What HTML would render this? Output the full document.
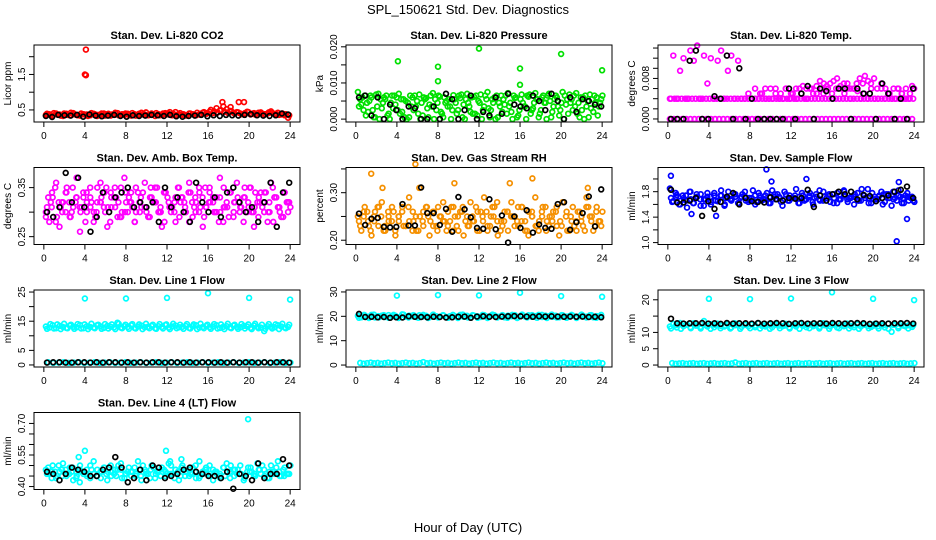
<!DOCTYPE html>
<html><head><meta charset="utf-8"><style>
html,body{margin:0;padding:0;background:#fff;}
svg{display:block;font-family:"Liberation Sans",Arial,sans-serif;}
</style></head><body>
<svg id="c" width="936" height="540" viewBox="0 0 936 540">
<text x="468" y="14" text-anchor="middle" font-size="13">SPL_150621  Std. Dev. Diagnostics</text>
<text x="468" y="532" text-anchor="middle" font-size="13">Hour of Day (UTC)</text>
</svg>
<script>
// ---- data (values per panel) ----
const hourTicks = [0,4,8,12,16,20,24];
const co2Red = [0.36,0.38,0.34,0.40,0.37,0.33,0.39,0.35,0.41,0.36,0.34,0.38,0.37,0.35,0.39,0.33,0.36,0.40,0.38,0.34,0.37,0.41,0.35,0.36,0.39,0.34,0.38,0.36,0.42,0.37,0.35,0.40,0.33,0.38,0.36,0.41,0.39,0.35,0.44,0.37,0.36,0.34,0.40,0.38,0.35,0.37,0.42,0.39,0.45,0.41,0.55,0.48,0.60,0.52,0.47,0.42,0.44,0.40,0.38,0.45,0.37,0.41,0.36,0.43,0.38,0.40,0.46,0.39,0.42,0.37,0.35,0.28];
const co2Red2 = [0.39,0.35,0.41,0.37,0.34,0.40,0.36,0.42,0.38,0.35,0.40,0.37,0.33,0.41,0.38,0.36,0.40,0.34,0.39,0.37,0.42,0.35,0.38,0.40,0.36,0.41,0.34,0.39,0.37,0.43,0.36,0.38,0.41,0.35,0.40,0.37,0.44,0.39,0.36,0.41,0.38,0.35,0.40,0.37,0.42,0.39,0.44,0.41,0.50,0.46,0.43,0.49,0.45,0.42,0.47,0.40,0.43,0.38,0.41,0.44,0.39,0.37,0.42,0.40,0.38,0.43,0.41,0.39,0.36,0.40,0.38,0.35];
const co2RedOut = [2.2,1.5,1.48,0.72,0.72,0.72,0.58];
const co2RedOutHr = [4.1,4.0,4.1,17.4,19.0,19.5,18.2];
const co2Black = [0.33,0.30,0.36,0.35,0.34,0.36,0.31,0.37,0.34,0.32,0.34,0.36,0.33,0.31,0.35,0.33,0.34,0.36,0.35,0.33,0.36,0.32,0.31,0.33,0.34,0.36,0.32,0.35,0.33,0.36,0.35,0.34,0.36,0.38,0.35,0.34,0.33,0.35,0.40,0.37];
const presGreen = [0.0075,0.004,0.0065,0.002,0.006,0.0005,0.007,0.003,0.0055,0.0015,0.0065,0.004,0.0070,0.002,0.005,0.0005,0.006,0.0035,0.0068,0.001,0.0058,0.004,0.0072,0.0025,0.0062,0.0005,0.005,0.0035,0.0066,0.0015,0.0058,0.004,0.007,0.002,0.0062,0.001,0.0068,0.0035,0.0075,0.0025,0.006,0.0005,0.0065,0.004,0.0072,0.002,0.0058,0.001,0.0068,0.0035,0.0062,0.0025,0.0072,0.0005,0.006,0.0045,0.007,0.002,0.0065,0.001,0.0075,0.004,0.0068,0.0025,0.0072,0.0005,0.006,0.0035,0.0068,0.002,0.006,0.0045];
const presGreen2 = [0.0035,0.006,0.001,0.005,0.0025,0.0068,0,0.0045,0.0065,0,0.003,0.006,0.0015,0.0055,0,0.0065,0.0025,0.005,0,0.006,0.003,0.0065,0,0.0045,0.002,0.006,0.0035,0,0.0055,0.0025,0.0068,0,0.0045,0.006,0.0015,0.005,0,0.0065,0.003,0.0055,0,0.0045,0.002,0.0065,0.0035,0,0.006,0.0025,0.0045,0,0.0068,0.003,0.0055,0.0015,0.0065,0,0.005,0.0035,0.006,0.0025,0,0.0055,0.0045,0.0065,0.0015,0.006,0,0.005,0.003,0.0065,0.001,0.0055];
const presGreen3 = [0.0055,0.0025,0.0045,0.0065,0.0005,0.0035,0.0055,0.006,0.001,0.0045,0.0065,0.0025,0.0055,0.0005,0.0045,0.0035,0.0065,0.0015,0.0045,0.0055,0.0005,0.0035,0.0055,0.0065,0.0015,0.0045,0.0055,0.0025,0.0045,0.0065,0.0005,0.0055,0.0035,0.0015,0.0065,0.0045,0.0025,0.0055,0.0005,0.0045,0.0065,0.0035,0.0055,0.0015,0.0045,0.0065,0.0005,0.0055,0.0035,0.0065,0.0015,0.0045,0.0055,0.0025,0.0045,0.0065,0.0005,0.0055,0.0035,0.0045,0.0065,0.0015,0.0055,0.0035,0.0045,0.0025,0.0065,0.0005,0.0055,0.0045,0.0035,0.0065];
const presGreenOut = [0.016,0.0145,0.0105,0.0195,0.014,0.0095,0.018,0.0135];
const presGreenOutHr = [4.1,8.0,8.0,12.0,16.0,16.0,20.0,24.0];
const presBlack = [0.006,0.0065,0.001,0.006,0,0.004,0.0025,0,0.0035,0.003,0,0,0.0035,0,0.007,0.0055,0,0.0025,0.0065,0,0.002,0.001,0.006,0.0015,0.007,0.004,0.0035,0.003,0.0065,0.005,0.0025,0.007,0.005,0,0.006,0.002,0.0055,0.005,0.004,0.0035];
const tempMag = [0.004,0.0125,0.004,0.0095,0.012,0.004,0.0135,0.0115,0.0145,0.004,0.0125,0.007,0.012,0.004,0.0115,0.0135,0.004,0.0095,0.0125,0.004,0.0115,0.004,0.004,0.005,0.004,0.004,0.004,0.005,0.004,0.004,0.004,0.005,0.004,0.004,0.006,0.004,0.005,0.004,0.006,0.0065,0.004,0.006,0.005,0.0065,0.0075,0.005,0.0065,0.007,0.0075,0.008,0.0065,0.007,0.006,0.004,0.006,0.0055,0.004,0.005,0.004,0.006,0.004,0.004,0.006,0.004,0.005,0.004,0.004,0.006,0.005,0.004,0.004,0.0065];
const tempMagBand = [0.004,0.004,0.004,0.004,0.004,0.004,0.004,0.004,0.004,0.004,0.004,0.004,0.004,0.004,0.004,0.004,0.004,0.004,0.004,0.004,0.004,0.004,0.004,0.004,0.004,0.004,0.004,0.004,0.004,0.004,0.004,0.004,0.004,0.004,0.004,0.004,0.004,0.004,0.004,0.004,0.004,0.004,0.004,0.004,0.004,0.004,0.004,0.004,0.004,0.004,0.004,0.004,0.004,0.004,0.004,0.004,0.004,0.004,0.004,0.004,0.004,0.004,0.004,0.004,0.004,0.004,0.004,0.004,0.004,0.004];
const tempMagMid = [0.006,0.005,0.006,0.005,0.006,0.005,0.006,0.006,0.005,0.006,0.007,0.006,0.005,0.006,0.006,0.005,0.007,0.006,0.006,0.007,0.008,0.007,0.0085,0.0075,0.007,0.008,0.006,0.007,0.006,0.005,0.006,0.006,0.005,0.006,0.005,0.006,0.006,0.005,0.006,0.006];
const tempMagMidHr = [10.5,11.0,11.5,12.0,12.5,13.0,13.5,14.0,14.5,15.0,15.2,15.6,16.0,16.4,16.8,17.2,17.5,17.8,18.1,18.4,18.7,19.0,19.2,19.5,19.8,20.1,20.4,20.8,21.2,21.6,22.0,22.4,22.8,23.2,23.6,24.0,9.5,9.0,10.0,8.5];
const tempMagZero = [0,0,0,0,0,0,0,0,0,0,0,0,0,0,0,0,0,0,0,0,0,0,0,0,0,0,0,0,0,0,0,0,0,0,0,0,0,0,0,0,0,0,0,0,0,0,0,0,0,0,0,0,0,0,0,0,0,0,0,0];
const tempBlack = [0,0,0,0.0115,0.0135,0,0,0.0045,0.004,0.0125,0,0.0100,0,0.004,0,0,0,0,0,0.006,0,0.005,0.0065,0,0.006,0.0055,0.004,0.006,0.006,0,0.006,0.005,0.005,0,0.007,0.005,0,0.004,0,0.006];
const ambMag = [0.30,0.28,0.33,0.36,0.27,0.32,0.34,0.29,0.31,0.37,0.26,0.33,0.30,0.35,0.28,0.32,0.36,0.31,0.27,0.34,0.33,0.29,0.35,0.37,0.30,0.32,0.28,0.34,0.31,0.36,0.29,0.33,0.35,0.30,0.27,0.34,0.32,0.31,0.28,0.35,0.33,0.30,0.36,0.29,0.32,0.34,0.27,0.31,0.35,0.33,0.30,0.37,0.28,0.32,0.34,0.29,0.36,0.31,0.33,0.30,0.35,0.27,0.32,0.34,0.30,0.28,0.36,0.33,0.31,0.29,0.34,0.32];
const ambMag2 = [0.31,0.34,0.29,0.32,0.35,0.30,0.33,0.31,0.34,0.32,0.30,0.33,0.35,0.31,0.33,0.29,0.32,0.34,0.30,0.33,0.31,0.35,0.32,0.30,0.34,0.31,0.33,0.32,0.30,0.34,0.33,0.31,0.35,0.32,0.30,0.33,0.31,0.34,0.32,0.30,0.33,0.35,0.31,0.32,0.34,0.30,0.33,0.31,0.34,0.32];
const ambMag3 = [0.33,0.31,0.35,0.32,0.30,0.34,0.32,0.35,0.33,0.31,0.34,0.32,0.33,0.30,0.35,0.32,0.34,0.31,0.33,0.35,0.32,0.30,0.34,0.33,0.31,0.35,0.32,0.34,0.30,0.33,0.32,0.35,0.31,0.34,0.33,0.30,0.32,0.35,0.33,0.31,0.34,0.32,0.30,0.35,0.33,0.31,0.34,0.32,0.33,0.30,0.35,0.31,0.34,0.32,0.33,0.31,0.35,0.32,0.30,0.34,0.33,0.31,0.34,0.32,0.35,0.33,0.30,0.34,0.32,0.31];
const ambMag4 = [0.29,0.32,0.28,0.31,0.30,0.29,0.32,0.30,0.28,0.31,0.29,0.32,0.30,0.28,0.31,0.29,0.30,0.32,0.28,0.30,0.31,0.29,0.32,0.30,0.28,0.31,0.30,0.29,0.32,0.28,0.31,0.30,0.29,0.32,0.30,0.28,0.31,0.29,0.30,0.32,0.28,0.31,0.30,0.29,0.32,0.30,0.28,0.31,0.29,0.30];
const ambBlack = [0.30,0.29,0.31,0.38,0.32,0.37,0.31,0.26,0.29,0.34,0.30,0.33,0.34,0.35,0.31,0.32,0.31,0.32,0.28,0.35,0.31,0.33,0.30,0.28,0.36,0.32,0.30,0.33,0.29,0.34,0.35,0.32,0.30,0.31,0.28,0.32,0.36,0.27,0.34,0.36];
const rhOr = [0.25,0.22,0.27,0.24,0.21,0.26,0.23,0.28,0.22,0.25,0.27,0.21,0.24,0.26,0.23,0.29,0.22,0.25,0.31,0.24,0.27,0.21,0.26,0.23,0.25,0.28,0.22,0.24,0.27,0.23,0.26,0.21,0.25,0.28,0.24,0.22,0.26,0.29,0.23,0.25,0.27,0.21,0.24,0.26,0.22,0.28,0.25,0.23,0.27,0.24,0.21,0.26,0.29,0.22,0.25,0.27,0.23,0.24,0.26,0.21,0.28,0.25,0.22,0.27,0.24,0.26,0.23,0.29,0.25,0.22,0.27,0.24];
const rhOr2 = [0.24,0.26,0.23,0.25,0.27,0.22,0.24,0.26,0.25,0.23,0.27,0.24,0.22,0.26,0.25,0.23,0.27,0.24,0.26,0.22,0.25,0.27,0.23,0.24,0.26,0.25,0.22,0.27,0.24,0.23,0.26,0.25,0.24,0.27,0.22,0.25,0.23,0.26,0.24,0.25,0.27,0.23,0.26,0.24,0.22,0.25,0.27,0.24,0.26,0.23];
const rhOr3 = [0.23,0.25,0.26,0.22,0.24,0.27,0.25,0.23,0.26,0.24,0.22,0.25,0.27,0.23,0.24,0.26,0.22,0.25,0.23,0.27,0.24,0.26,0.22,0.25,0.24,0.23,0.27,0.25,0.22,0.26,0.24,0.23,0.25,0.27,0.22,0.24,0.26,0.23,0.25,0.28,0.22,0.24,0.26,0.25,0.23,0.27,0.24,0.22,0.26,0.25,0.23,0.24,0.27,0.22,0.25,0.26,0.23,0.24,0.28,0.22,0.25,0.23,0.26,0.24,0.22,0.27,0.25,0.23,0.24,0.26];
const rhOrOut = [0.34,0.36,0.31,0.32,0.32,0.33,0.31];
const rhOrOutHr = [1.5,5.8,2.6,9.6,15.0,17.2,22.6];
const rhBlack = [0.256,0.232,0.245,0.247,0.228,0.227,0.228,0.276,0.231,0.231,0.311,0.257,0.257,0.232,0.266,0.218,0.291,0.265,0.248,0.226,0.224,0.286,0.223,0.252,0.195,0.250,0.226,0.263,0.216,0.233,0.226,0.224,0.276,0.280,0.222,0.238,0.257,0.292,0.229,0.307];
const sfBlue = [1.85,1.65,1.75,1.60,1.70,1.55,1.80,1.62,1.72,1.58,1.68,1.78,1.60,1.74,1.65,1.82,1.58,1.70,1.66,1.76,1.62,1.72,1.80,1.64,1.70,1.60,1.78,1.66,1.74,1.62,1.82,1.68,1.72,1.58,1.76,1.66,1.70,1.84,1.62,1.74,1.68,1.78,1.60,1.72,1.66,1.80,1.70,1.64,1.76,1.62,1.74,1.82,1.68,1.70,1.60,1.78,1.66,1.74,1.84,1.62,1.72,1.68,1.80,1.64,1.76,1.58,1.70,1.82,1.62,1.74,1.66,1.72];
const sfBlue2 = [1.70,1.72,1.66,1.74,1.68,1.70,1.76,1.68,1.72,1.66,1.74,1.70,1.68,1.76,1.70,1.72,1.66,1.74,1.70,1.68,1.72,1.76,1.70,1.68,1.74,1.70,1.72,1.66,1.74,1.70,1.68,1.72,1.76,1.70,1.68,1.74,1.70,1.72,1.66,1.74,1.70,1.68,1.72,1.76,1.70,1.68,1.74,1.70,1.72,1.66];
const sfBlue3 = [1.64,1.78,1.60,1.74,1.66,1.80,1.62,1.76,1.68,1.58,1.72,1.64,1.78,1.66,1.74,1.60,1.80,1.68,1.72,1.62,1.76,1.66,1.70,1.82,1.64,1.74,1.68,1.78,1.62,1.72,1.76,1.64,1.80,1.66,1.70,1.74,1.62,1.78,1.68,1.72,1.64,1.76,1.82,1.66,1.70,1.74,1.62,1.78,1.68,1.80,1.64,1.72,1.76,1.66,1.84,1.70,1.62,1.78,1.68,1.74,1.60,1.76,1.70,1.80,1.66,1.72,1.62,1.78,1.70,1.64];
const sfBlueOut = [2.05,1.45,1.42,2.15,1.96,2.0,1.02,1.37,1.95];
const sfBlueOutHr = [0.3,2.3,4.7,9.6,10.1,13.5,22.3,23.3,22.5];
const sfBlack = [1.83,1.63,1.63,1.66,1.70,1.42,1.65,1.53,1.64,1.72,1.78,1.60,1.70,1.65,1.64,1.63,1.71,1.68,1.66,1.70,1.69,1.70,1.83,1.56,1.74,1.66,1.76,1.80,1.76,1.80,1.68,1.75,1.73,1.65,1.70,1.74,1.80,1.83,1.88,1.70];
const l1Cyan = [13.2,12.8,13.6,12.6,13.4,13.0,12.7,13.5,13.1,12.9,13.7,12.6,13.3,13.0,12.8,13.6,13.2,12.7,13.4,13.1,12.9,14.5,12.8,13.3,13.0,13.6,12.7,13.2,13.5,12.9,13.1,13.4,12.6,13.3,13.0,13.7,12.8,13.2,13.5,12.9,13.1,13.4,12.7,13.3,13.6,12.8,13.0,13.4,12.9,13.2,13.6,12.7,13.1,13.3,12.8,13.5,13.0,12.9,13.4,13.2,12.7,13.5,13.0,12.8,11.6,13.3,13.1,12.9,13.6,13.2,12.8,13.0];
const l1Cyan2 = [12.4,14.0,12.5,13.9,12.3,14.1,12.6,13.8,12.4,14.0,12.5,13.9,12.3,14.1,12.6,13.8,12.4,14.0,12.5,13.9,12.3,14.1,12.6,13.8,12.4,14.0,12.5,13.9,12.3,14.1,12.6,13.8,12.4,14.0,12.5,13.9,12.3,14.1,12.6,13.8,12.4,14.0,12.5,13.9,12.3,14.1,12.6,13.8,12.4,14.0,12.5,13.9,12.3,14.1,12.6,13.8,12.4,14.0,12.5,13.9,12.3,14.1,12.6,13.8,12.4,14.0,12.5,13.9,12.3,14.1,12.6,13.8];
const l1Low = [0.9,0.7,0.8,0.9,0.7,0.8,0.9,0.7,0.8,0.9,0.7,0.8,0.9,0.7,0.8,0.9,0.7,0.8,0.9,0.7,0.8,0.9,0.7,0.8,0.9,0.7,0.8,0.9,0.7,0.8,0.9,0.7,0.8,0.9,0.7,0.8,0.9,0.7,0.8,0.9,0.7,0.8,0.9,0.7,0.8,0.9,0.7,0.8];
const l1Out = [22.8,22.8,23.0,24.6,23.0,22.4];
const spikeHr = [4.0,8.0,12.0,16.0,20.0,24.0];
const l1Black = [0.8,0.9,0.9,0.8,0.8,0.9,0.9,0.8,0.9,0.8,0.9,0.9,0.8,0.9,0.8,0.9,0.8,0.9,0.9,0.8,0.9,0.9,0.8,0.9,0.8,0.9,0.9,0.8,0.9,0.8,0.9,0.8,0.9,0.9,0.8,0.9,0.8,0.9,0.9,0.8];
const l2Cyan = [20.2,19.6,20.4,19.8,20.6,19.5,20.1,20.3,19.7,20.5,19.9,20.2,19.6,20.8,19.8,20.3,20.0,19.7,20.4,19.9,20.2,19.6,20.5,20.0,19.8,20.3,19.7,20.1,20.4,19.9,20.6,19.8,20.2,19.6,20.3,20.0,19.7,20.5,19.9,20.2,20.4,19.8,20.1,19.6,20.3,20.0,20.5,19.7,20.2,19.9,20.4,19.8,20.1,20.6,19.7,20.3,20.0,19.8,20.2,19.6,20.4,19.9,20.1,20.3,19.7,20.0,20.2,19.8,20.4,19.6,20.1,19.9];
const l2Cyan2 = [19.4,20.6,19.3,20.7,19.5,20.5,19.4,20.6,19.3,20.7,19.5,20.5,19.4,20.6,19.3,20.7,19.5,20.5,19.4,20.6,19.3,20.7,19.5,20.5,19.4,20.6,19.3,20.7,19.5,20.5,19.4,20.6,19.3,20.7,19.5,20.5,19.4,20.6,19.3,20.7,19.5,20.5,19.4,20.6,19.3,20.7,19.5,20.5,19.4,20.6];
const l2Low = [0.9,0.6,0.8,1.0,0.7,0.9,0.6,0.8,1.0,0.7,0.9,0.6,0.8,1.0,0.7,0.9,0.6,0.8,1.2,0.7,0.9,0.6,0.8,1.0,0.7,0.9,0.6,0.8,1.0,0.7,0.9,0.6,0.8,1.0,0.7,0.9,0.6,0.8,1.0,0.7,0.9,0.6,0.8,1.0,0.7,0.9,0.6,0.8,1.0,0.7,0.9,0.6,0.8,1.0,0.7,0.9,0.6,0.8,1.0,0.7,0.9,0.6,0.8,1.0,0.7,0.9,0.6,0.8,1.0,0.7];
const l2Out = [28.5,28.7,28.6,29.7,28.3,28.0];
const l2Black = [21.0,19.7,19.8,19.6,19.7,19.4,19.6,19.5,20.0,19.8,19.7,19.6,19.8,19.7,19.5,19.6,19.8,19.9,19.4,19.9,20.0,19.8,19.7,19.9,20.0,20.1,20.0,19.9,19.8,20.0,19.9,20.0,19.9,19.8,19.9,19.8,19.9,19.7,19.8,19.6];
const l3Cyan = [11.8,12.6,11.5,12.9,11.9,12.4,11.6,12.8,12.1,11.7,13.5,11.8,12.5,11.6,12.7,12.0,11.8,12.5,11.5,12.8,12.2,11.7,12.6,11.9,12.4,11.6,12.8,12.0,11.8,12.5,11.6,12.7,12.1,11.9,12.6,11.5,12.3,11.8,12.7,12.0,11.6,12.5,11.9,12.4,11.7,12.8,12.1,11.8,12.6,11.5,12.3,11.9,12.7,12.0,11.6,12.5,11.8,12.4,12.0,11.7,12.6,11.9,12.3,11.5,12.7,10.2,12.4,11.8,12.6,11.9,12.2,11.7];
const l3Cyan2 = [11.2,12.2,11.1,12.3,11.3,12.1,11.2,12.2,11.1,12.3,11.3,12.1,11.2,12.2,11.1,12.3,11.3,12.1,11.2,12.2,11.1,12.3,11.3,12.1,11.2,12.2,11.1,12.3,11.3,12.1,11.2,12.2,11.1,12.3,11.3,12.1,11.2,12.2,11.1,12.3,11.3,12.1,11.2,12.2,11.1,12.3,11.3,12.1,11.2,12.2];
const l3Low = [0.6,0.4,0.5,0.6,0.4,0.5,0.6,0.4,0.5,0.6,0.4,0.5,0.6,0.4,0.5,0.6,0.4,0.5,0.8,0.4,0.5,0.6,0.4,0.5,0.6,0.4,0.5,0.6,0.4,0.5,0.6,0.4,0.5,0.6,0.4,0.5,0.6,0.4,0.5,0.6,0.4,0.5,0.6,0.4,0.5,0.6,0.4,0.5,0.6,0.4,0.5,0.6,0.4,0.5,0.6,0.4,0.5,0.6,0.4,0.5,0.6,0.4,0.5,0.6,0.4,0.5,0.6,0.4,0.5,0.6];
const l3Out = [20.3,20.2,20.4,22.3,20.3,19.9];
const l3Black = [14.2,12.8,12.7,12.8,12.8,12.9,12.7,12.8,12.6,12.9,12.7,12.8,12.8,12.7,12.9,12.7,12.8,12.9,12.8,12.6,12.8,12.9,12.7,12.8,12.8,12.7,12.9,12.8,12.7,12.8,12.9,12.8,12.6,12.7,12.8,12.7,12.8,12.8,12.9,12.7];
const l4Cyan = [0.48,0.46,0.50,0.44,0.47,0.51,0.45,0.49,0.43,0.47,0.50,0.46,0.48,0.44,0.52,0.45,0.47,0.49,0.43,0.50,0.46,0.48,0.51,0.44,0.47,0.45,0.49,0.52,0.43,0.48,0.46,0.50,0.44,0.47,0.49,0.45,0.51,0.46,0.48,0.43,0.50,0.47,0.45,0.49,0.44,0.52,0.46,0.48,0.50,0.43,0.47,0.45,0.49,0.51,0.44,0.48,0.46,0.50,0.43,0.47,0.49,0.45,0.51,0.46,0.48,0.44,0.50,0.47,0.52,0.45,0.49,0.46];
const l4Cyan2 = [0.46,0.47,0.45,0.48,0.46,0.47,0.45,0.47,0.46,0.48,0.45,0.47,0.46,0.47,0.45,0.48,0.46,0.47,0.46,0.45,0.47,0.48,0.46,0.45,0.47,0.46,0.48,0.45,0.47,0.46,0.47,0.45,0.48,0.46,0.47,0.46,0.45,0.47,0.48,0.46,0.45,0.47,0.46,0.48,0.45,0.47,0.46,0.47,0.45,0.46];
const l4Cyan3 = [0.49,0.44,0.47,0.50,0.45,0.48,0.46,0.49,0.44,0.48,0.47,0.45,0.50,0.46,0.48,0.44,0.49,0.47,0.45,0.48,0.50,0.44,0.46,0.49,0.47,0.45,0.48,0.50,0.46,0.44,0.49,0.47,0.45,0.48,0.46,0.50,0.44,0.47,0.49,0.45,0.48,0.46,0.50,0.44,0.47,0.49,0.45,0.48,0.46,0.44,0.49,0.47,0.50,0.45,0.48,0.46,0.44,0.49,0.47,0.45,0.48,0.50,0.46,0.44,0.47,0.49,0.45,0.48,0.46,0.50];
const l4Out = [0.57,0.54,0.57,0.42,0.72,0.52,0.53];
const l4OutHr = [4.0,3.4,11.9,3.5,19.9,12.3,13.4];
const l4Black = [0.47,0.46,0.43,0.46,0.49,0.48,0.47,0.45,0.45,0.48,0.49,0.54,0.49,0.42,0.44,0.48,0.43,0.50,0.49,0.44,0.45,0.46,0.48,0.49,0.47,0.46,0.45,0.45,0.44,0.47,0.39,0.46,0.45,0.43,0.51,0.44,0.46,0.46,0.53,0.50];

const C = {red:"#ff0000",blk:"#000000",grn:"#00e000",mag:"#ff00ff",org:"#f59000",blu:"#0000ff",cyn:"#00ffff"};
const panels = [
 {name:"co2",title:"Stan. Dev. Li-820 CO2",yl:"Licor ppm",col:0,row:0,ylim:[0.16,2.33],ticks:[0.5,1.0,1.5,2.0],labs:["0.5","","1.5",""],
  series:[[co2Red,null,C.red],[co2Red2,null,C.red],[co2RedOut,co2RedOutHr,C.red],[co2Black,null,C.blk]]},
 {name:"pressure",title:"Stan. Dev. Li-820 Pressure",yl:"kPa",col:1,row:0,ylim:[-0.0008,0.0205],ticks:[0,0.005,0.01,0.015,0.02],labs:["0.000","","0.010","","0.020"],
  series:[[presGreen,null,C.grn],[presGreen2,null,C.grn],[presGreen3,null,C.grn],[presGreenOut,presGreenOutHr,C.grn],[presBlack,null,C.blk]]},
 {name:"temp",title:"Stan. Dev. Li-820 Temp.",yl:"degrees C",col:2,row:0,ylim:[-0.0006,0.0146],ticks:[0,0.002,0.004,0.006,0.008,0.010,0.012,0.014],labs:["0.000","","","","0.008","","",""],
  series:[[tempMagZero,null,C.mag],[tempMagBand,null,C.mag],[tempMagMid,tempMagMidHr,C.mag],[tempMag,null,C.mag],[tempBlack,null,C.blk]]},
 {name:"amb-temp",title:"Stan. Dev. Amb. Box Temp.",yl:"degrees C",col:0,row:1,ylim:[0.234,0.391],ticks:[0.25,0.30,0.35],labs:["0.25","","0.35"],
  series:[[ambMag,null,C.mag],[ambMag2,null,C.mag],[ambMag3,null,C.mag],[ambMag4,null,C.mag],[ambBlack,null,C.blk]]},
 {name:"rh",title:"Stan. Dev. Gas Stream RH",yl:"percent",col:1,row:1,ylim:[0.191,0.353],ticks:[0.20,0.25,0.30,0.35],labs:["0.20","","0.30",""],
  series:[[rhOr,null,C.org],[rhOr2,null,C.org],[rhOr3,null,C.org],[rhOrOut,rhOrOutHr,C.org],[rhBlack,null,C.blk]]},
 {name:"sample-flow",title:"Stan. Dev. Sample Flow",yl:"ml/min",col:2,row:1,ylim:[0.97,2.18],ticks:[1.0,1.2,1.4,1.6,1.8,2.0],labs:["1.0","","1.4","","1.8",""],
  series:[[sfBlue,null,C.blu],[sfBlue2,null,C.blu],[sfBlue3,null,C.blu],[sfBlueOut,sfBlueOutHr,C.blu],[sfBlack,null,C.blk]]},
 {name:"line1",title:"Stan. Dev. Line 1 Flow",yl:"ml/min",col:0,row:2,ylim:[-0.7,25.7],ticks:[0,5,10,15,20,25],labs:["0","5","","15","","25"],
  series:[[l1Cyan,null,C.cyn],[l1Cyan2,null,C.cyn],[l1Low,null,C.cyn],[l1Out,spikeHr,C.cyn],[l1Black,null,C.blk]]},
 {name:"line2",title:"Stan. Dev. Line 2 Flow",yl:"ml/min",col:1,row:2,ylim:[-0.8,30.8],ticks:[0,10,20,30],labs:["0","10","20","30"],
  series:[[l2Cyan,null,C.cyn],[l2Cyan2,null,C.cyn],[l2Low,null,C.cyn],[l2Out,spikeHr,C.cyn],[l2Black,null,C.blk]]},
 {name:"line3",title:"Stan. Dev. Line 3 Flow",yl:"ml/min",col:2,row:2,ylim:[-0.6,23],ticks:[0,5,10,15,20],labs:["0","5","10","","20"],
  series:[[l3Cyan,null,C.cyn],[l3Cyan2,null,C.cyn],[l3Low,null,C.cyn],[l3Out,spikeHr,C.cyn],[l3Black,null,C.blk]]},
 {name:"line4",title:"Stan. Dev. Line 4 (LT) Flow",yl:"ml/min",col:0,row:3,ylim:[0.386,0.752],ticks:[0.40,0.45,0.50,0.55,0.60,0.65,0.70],labs:["0.40","","","0.55","","","0.70"],
  series:[[l4Cyan,null,C.cyn],[l4Cyan2,null,C.cyn],[l4Cyan3,null,C.cyn],[l4Out,l4OutHr,C.cyn],[l4Black,null,C.blk]]}
];
const NS="http://www.w3.org/2000/svg";
const svg=document.getElementById('c');
const colX=[34,346,658], rowY=[45,167.5,290,412.5], W=266, H=77;
function mk(tag,attrs,parent){const e=document.createElementNS(NS,tag);for(const k in attrs)e.setAttribute(k,attrs[k]);parent.appendChild(e);return e;}
panels.forEach(p=>{
  const x0=colX[p.col], y0=rowY[p.row];
  const g=mk('g',{},svg);
  
  
  const xs=h=>x0+(h+0.96)/25.92*W;
  const ys=v=>y0+H-(v-p.ylim[0])/(p.ylim[1]-p.ylim[0])*H;
  const t=mk('text',{x:x0+W/2,y:y0-6,'text-anchor':'middle','font-size':'11','font-weight':'bold'},g);
  t.textContent=p.title;
  
  
  p.series.forEach((s,si)=>{
    const vals=s[0], hrs=s[1], col=s[2];
    const off = (si%3)*0.11;
    vals.forEach((v,i)=>{
      const h = hrs ? hrs[i] : (0.2 + off + i*23.6/(vals.length-1));
      const c=mk('circle',{cx:xs(h).toFixed(1),cy:ys(v).toFixed(1),r:2.4,fill:'none',stroke:col,'stroke-width':1.7},g);
      
      
    });
  });
  const box=mk('rect',{x:x0,y:y0,width:W,height:H,fill:'none',stroke:'#000','stroke-width':1},g);
  
  
  hourTicks.forEach(h=>{
    const X=xs(h);
    mk('line',{x1:X,y1:y0+H,x2:X,y2:y0+H+5,stroke:'#000'},g);
    const l=mk('text',{x:X,y:y0+H+17,'text-anchor':'middle','font-size':'10'},g);
    l.textContent=h;
    
    
  });
  p.ticks.forEach((v,i)=>{
    const Y=ys(v);
    mk('line',{x1:x0-5,y1:Y,x2:x0,y2:Y,stroke:'#000'},g);
    if(p.labs[i]){
      const l=mk('text',{x:0,y:0,'text-anchor':'middle','font-size':'10',transform:`translate(${x0-9},${Y}) rotate(-90)`},g);
      l.textContent=p.labs[i];
      
      
    }
  });
  const yl=mk('text',{x:0,y:0,'text-anchor':'middle','font-size':'10',transform:`translate(${x0-23},${y0+H/2}) rotate(-90)`},g);
  yl.textContent=p.yl;
  
  
});
</script>
</body></html>
